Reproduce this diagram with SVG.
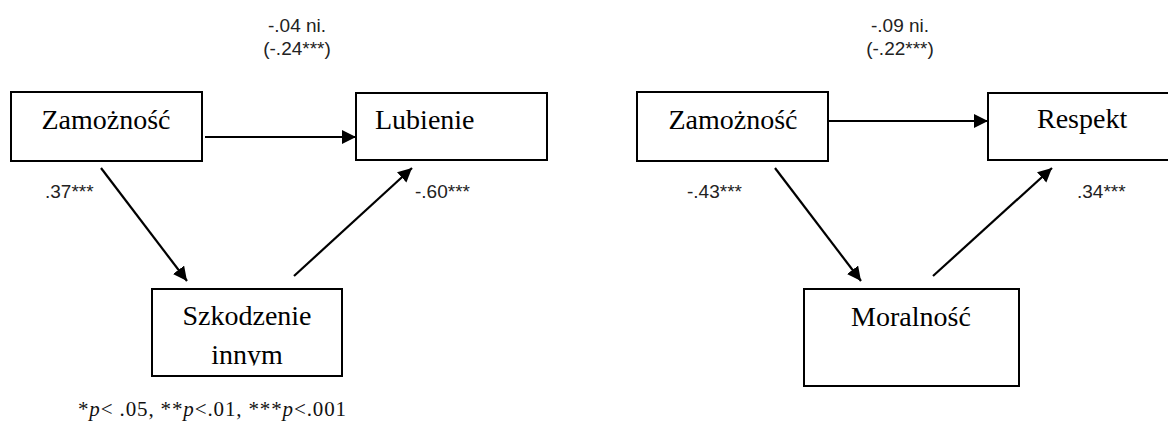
<svg xmlns="http://www.w3.org/2000/svg" width="1168" height="421" viewBox="0 0 1168 421">
  <style>
    .box { fill: #fff; stroke: #000; stroke-width: 2; }
    .node { font-family: "Liberation Serif", "Times New Roman", serif; font-size: 28px; fill: #000; }
    .lbl { font-family: "Liberation Sans", Arial, sans-serif; font-size: 19px; fill: #222; }
    .edge { stroke: #000; stroke-width: 2.2; fill: none; marker-end: url(#arr); }
    .note { font-family: "Liberation Serif", "Times New Roman", serif; font-size: 21px; fill: #111; }
  </style>
  <defs>
    <marker id="arr" markerUnits="userSpaceOnUse" markerWidth="16" markerHeight="16" refX="14" refY="7" orient="auto">
      <path d="M0,0 L14,7 L0,14 z" fill="#000"/>
    </marker>
    <clipPath id="clipSz">
      <rect x="150" y="287" width="194" height="78.5"/>
    </clipPath>
  </defs>
  <rect width="1168" height="421" fill="#fff"/>

  <!-- Left model -->
  <g id="node-zamoznosc-1">
    <rect class="box" x="11" y="92" width="191" height="69"/>
    <text class="node" x="106" y="129" text-anchor="middle">Zamożność</text>
  </g>
  <g id="node-lubienie">
    <rect class="box" x="356" y="93" width="191" height="67"/>
    <text class="node" x="375" y="129">Lubienie</text>
  </g>
  <g id="node-szkodzenie">
    <rect class="box" x="152" y="289" width="190" height="87"/>
    <g clip-path="url(#clipSz)">
      <text class="node" x="247" y="325" text-anchor="middle">Szkodzenie</text>
      <text class="node" x="247" y="364" text-anchor="middle">innym</text>
    </g>
  </g>

  <!-- Right model -->
  <g id="node-zamoznosc-2">
    <rect class="box" x="637" y="92" width="191" height="69"/>
    <text class="node" x="733" y="129" text-anchor="middle">Zamożność</text>
  </g>
  <g id="node-respekt">
    <rect class="box" x="988" y="93" width="192" height="67"/>
    <text class="node" x="1037" y="128">Respekt</text>
  </g>
  <g id="node-moralnosc">
    <rect class="box" x="804" y="289" width="215" height="97"/>
    <text class="node" x="911" y="326" text-anchor="middle">Moralność</text>
  </g>

  <!-- Connectors -->
  <g id="connectors">
    <line class="edge" x1="205" y1="137" x2="356" y2="137"/>
    <line class="edge" x1="101" y1="168" x2="187" y2="281"/>
    <line class="edge" x1="294" y1="276" x2="412" y2="168"/>
    <line class="edge" x1="828" y1="121" x2="988" y2="121"/>
    <line class="edge" x1="775" y1="168" x2="861" y2="281"/>
    <line class="edge" x1="933" y1="276" x2="1052" y2="168"/>
  </g>

  <!-- Labels -->
  <g id="labels">
    <text class="lbl" x="297" y="32" text-anchor="middle">-.04 ni.</text>
    <text class="lbl" x="297" y="55" text-anchor="middle">(-.24***)</text>
    <text class="lbl" x="45" y="198">.37***</text>
    <text class="lbl" x="415" y="198">-.60***</text>
    <text class="lbl" x="900" y="32" text-anchor="middle">-.09 ni.</text>
    <text class="lbl" x="900" y="55" text-anchor="middle">(-.22***)</text>
    <text class="lbl" x="687" y="198">-.43***</text>
    <text class="lbl" x="1077" y="198">.34***</text>
  </g>

  <text class="note" x="78" y="416" textLength="268" lengthAdjust="spacing">*<tspan font-style="italic">p</tspan>&lt; .05, **<tspan font-style="italic">p</tspan>&lt;.01, ***<tspan font-style="italic">p</tspan>&lt;.001</text>
</svg>
